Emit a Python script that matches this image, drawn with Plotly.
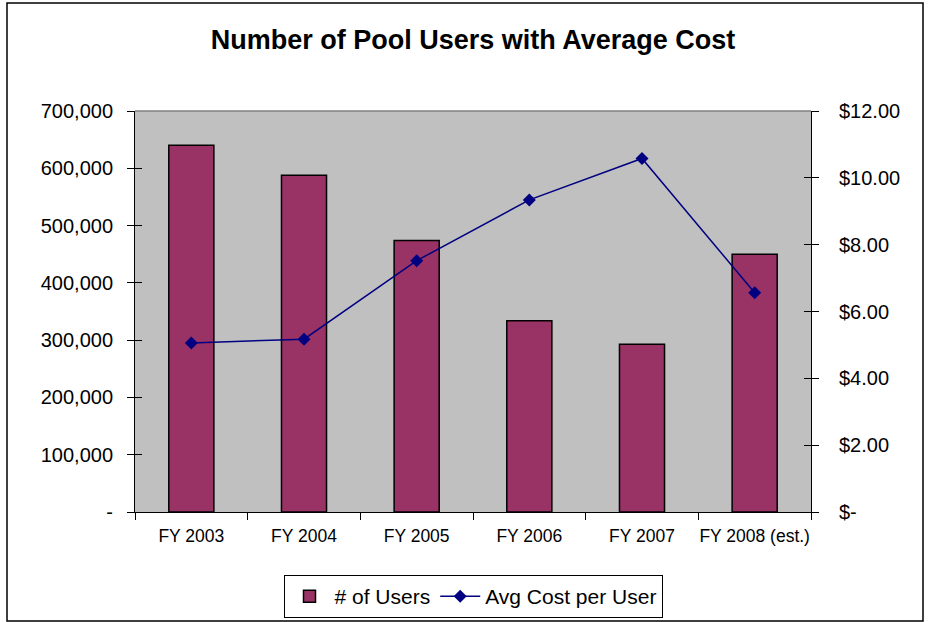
import plotly.graph_objects as go

years = ["FY 2003", "FY 2004", "FY 2005", "FY 2006", "FY 2007", "FY 2008 (est.)"]
users = [640000, 588000, 474000, 334000, 293000, 450000]
avg_cost = [5.06, 5.17, 7.52, 9.34, 10.58, 6.56]

user_ticks = [0, 100000, 200000, 300000, 400000, 500000, 600000, 700000]
user_tick_text = ["-", "100,000", "200,000", "300,000", "400,000", "500,000", "600,000", "700,000"]
cost_ticks = [0, 2, 4, 6, 8, 10, 12]
cost_tick_text = ["$-", "$2.00", "$4.00", "$6.00", "$8.00", "$10.00", "$12.00"]

W, H = 928, 622
L, R, T, B = 135, 811, 111, 512
FONT = "Liberation Sans, Arial, sans-serif"


def px_to_paper_x(px):
    return (px - L) / (R - L)


def px_to_paper_y(py):
    return (B - py) / (B - T)


fig = go.Figure()
fig.add_trace(go.Bar(
    x=years, y=users, name="# of Users",
    marker=dict(color="#993366", line=dict(color="black", width=1.5)),
))
fig.add_trace(go.Scatter(
    x=years, y=avg_cost, name="Avg Cost per User", yaxis="y2",
    mode="lines+markers",
    line=dict(color="#000080", width=1.5),
    marker=dict(symbol="diamond", size=10, color="#000080"),
))

axis_font = dict(family=FONT, size=20, color="black")

fig.update_layout(
    width=W, height=H,
    margin=dict(l=L, r=W - R, t=T, b=H - B, autoexpand=False),
    paper_bgcolor="white",
    plot_bgcolor="#C0C0C0",
    bargap=0.6,
    showlegend=True,
    title=dict(
        text="<b>Number of Pool Users with Average Cost</b>",
        x=0.5, xref="paper", xanchor="center",
        y=1 - 40 / H, yanchor="middle",
        font=dict(family=FONT, size=27, color="black"),
    ),
    xaxis=dict(
        type="category", range=[-0.5, 5.5],
        tickson="boundaries", ticks="outside", ticklen=7, tickcolor="black",
        showline=True, linecolor="black", linewidth=1,
        showgrid=False, tickfont=dict(family=FONT, size=17.5, color="black"),
        tickangle=0, ticklabelstandoff=8,
    ),
    yaxis=dict(
        range=[0, 700000], tickvals=user_ticks, ticktext=user_tick_text,
        ticks="outside", ticklen=7, tickcolor="black",
        showline=True, linecolor="black", linewidth=1,
        showgrid=False, zeroline=False, tickfont=axis_font,
        ticklabelstandoff=10,
    ),
    yaxis2=dict(
        range=[0, 12], tickvals=cost_ticks, ticktext=cost_tick_text,
        overlaying="y", side="right",
        ticks="outside", ticklen=7, tickcolor="black",
        showline=True, linecolor="black", linewidth=1,
        showgrid=False, zeroline=False, tickfont=axis_font,
        ticklabelstandoff=16,
    ),
    legend=dict(
        orientation="h", x=0.5, xanchor="center",
        y=px_to_paper_y(575), yanchor="top",
        bordercolor="black", borderwidth=1, bgcolor="white",
        font=dict(family=FONT, size=21, color="black"),
        itemwidth=40,
    ),
    shapes=[
        # grey plot-area border along the top edge
        dict(type="line", xref="paper", yref="paper", x0=0, x1=1, y0=1, y1=1,
             line=dict(color="#808080", width=1.5)),
        # chart frame
        dict(type="rect", xref="paper", yref="paper",
             x0=px_to_paper_x(7), x1=px_to_paper_x(923),
             y0=px_to_paper_y(621), y1=px_to_paper_y(3),
             line=dict(color="black", width=1.5), layer="above"),
    ],
)

# inside halves of the crossing tick marks on both value axes
fig.update_layout(
    yaxis3=dict(range=[0, 700000], tickvals=user_ticks, overlaying="y", side="left",
                ticks="inside", ticklen=7, tickcolor="black", showticklabels=False,
                showgrid=False, zeroline=False, showline=False),
    yaxis4=dict(range=[0, 12], tickvals=cost_ticks, overlaying="y", side="right",
                ticks="inside", ticklen=7, tickcolor="black", showticklabels=False,
                showgrid=False, zeroline=False, showline=False),
)
fig.add_trace(go.Scatter(x=[years[0]], y=[0], yaxis="y3", showlegend=False,
                         mode="markers", marker=dict(opacity=0), hoverinfo="skip"))
fig.add_trace(go.Scatter(x=[years[0]], y=[0], yaxis="y4", showlegend=False,
                         mode="markers", marker=dict(opacity=0), hoverinfo="skip"))

fig.write_html("out.html")
